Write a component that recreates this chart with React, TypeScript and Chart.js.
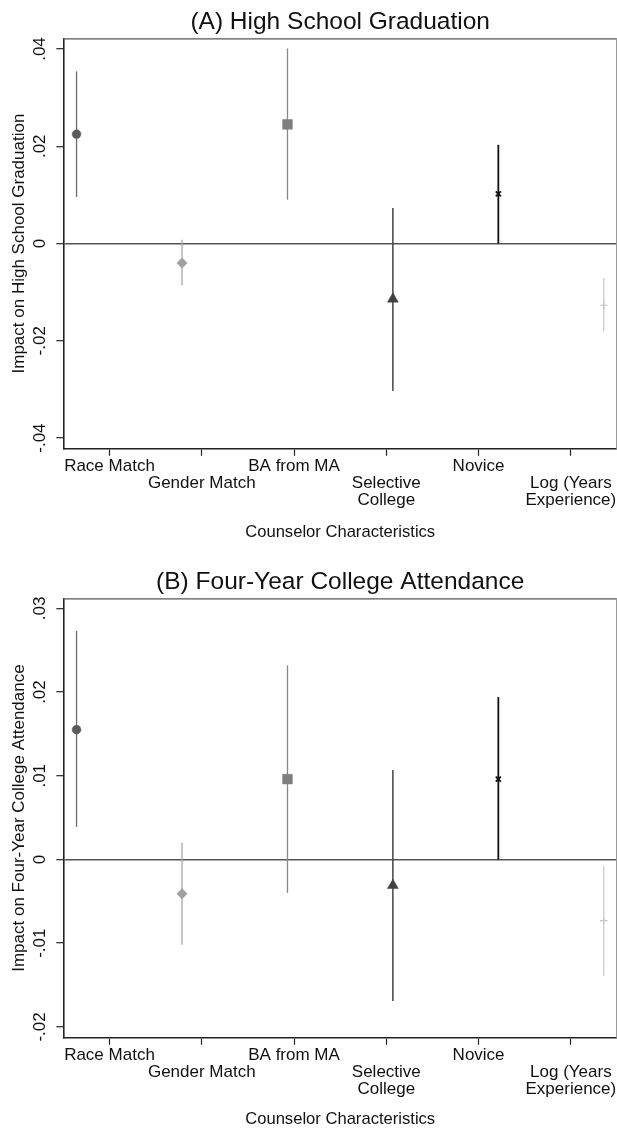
import React, { useEffect, useRef } from "react";
import { Chart, registerables } from "chart.js";

Chart.register(...registerables);

// Counselor characteristics (x axis categories) and where their ticks sit
const categories = [
  "Race Match",
  "Gender Match",
  "BA from MA",
  "Selective\nCollege",
  "Novice",
  "Log (Years\nExperience)",
];
const categoryTicks = [1, 2, 3, 4, 5, 6];
// x coordinate of each coefficient marker
const markerX = [0.643, 1.786, 2.929, 4.071, 5.214, 6.357];

// Panel A: high school graduation
const gradEstimate = [0.0225, -0.004, 0.0245, -0.0114, 0.0102, -0.0127];
const gradLower = [0.0096, -0.0086, 0.009, -0.0303, 0.0, -0.0181];
const gradUpper = [0.0354, 0.0008, 0.0401, 0.0073, 0.0203, -0.0071];
const gradTicks = [-0.04, -0.02, 0, 0.02, 0.04];

// Panel B: four-year college attendance
const collegeEstimate = [0.0155, -0.0041, 0.0096, -0.0031, 0.0096, -0.0073];
const collegeLower = [0.0039, -0.0102, -0.004, -0.0169, 0.0, -0.0139];
const collegeUpper = [0.0273, 0.002, 0.0232, 0.0107, 0.0194, -0.0008];
const collegeTicks = [-0.02, -0.01, 0, 0.01, 0.02, 0.03];

const FONT = "'Liberation Sans', Arial, Helvetica, sans-serif";
const TEXT = "#111111";
const AXIS = "#222222";

type MarkerStyle = {
  pointStyle: string;
  radius: number;
  fill: string;
  line: string;
  lineWidth: number;
  strokeWidth: number;
};

const markerStyles: MarkerStyle[] = [
  { pointStyle: "circle", radius: 4.4, fill: "#5a5a5a", line: "#6a6a6a", lineWidth: 1.3, strokeWidth: 0.5 },
  { pointStyle: "rectRot", radius: 5.2, fill: "#a0a0a0", line: "#a8a8a8", lineWidth: 1.3, strokeWidth: 0.5 },
  { pointStyle: "rect", radius: 6.9, fill: "#7f7f7f", line: "#888888", lineWidth: 1.3, strokeWidth: 0.5 },
  { pointStyle: "triangle", radius: 6.3, fill: "#404040", line: "#444444", lineWidth: 1.5, strokeWidth: 0.5 },
  { pointStyle: "crossRot", radius: 3.6, fill: "#111111", line: "#111111", lineWidth: 1.8, strokeWidth: 1.8 },
  { pointStyle: "cross", radius: 3.8, fill: "#c4c4c4", line: "#c4c4c4", lineWidth: 1.1, strokeWidth: 1.1 },
];

function formatTick(v: number): string {
  if (Math.abs(v) < 1e-12) return "0";
  const s = String(Math.abs(v)).replace(/^0/, "");
  return (v < 0 ? "-" : "") + s;
}

// Top and right edges of the plot region
const framePlugin = {
  id: "plotFrame",
  afterDraw(chart: any) {
    const { ctx, chartArea } = chart;
    ctx.save();
    ctx.lineWidth = 1.3;
    ctx.strokeStyle = "#555555";
    ctx.beginPath();
    ctx.moveTo(chartArea.left, chartArea.top + 0.5);
    ctx.lineTo(chartArea.right, chartArea.top + 0.5);
    ctx.stroke();
    ctx.strokeStyle = "#9a9a9a";
    ctx.lineWidth = 1;
    ctx.beginPath();
    ctx.moveTo(chartArea.right - 0.5, chartArea.top);
    ctx.lineTo(chartArea.right - 0.5, chartArea.bottom);
    ctx.stroke();
    ctx.restore();
  },
};

type PanelProps = {
  title: string;
  yTitle: string;
  estimate: number[];
  lower: number[];
  upper: number[];
  yTicks: number[];
  yMin: number;
  yMax: number;
  height: number;
  xTitlePad: { top: number; bottom: number };
};

function CoefPanel(p: PanelProps) {
  const ref = useRef<HTMLCanvasElement | null>(null);

  useEffect(() => {
    if (!ref.current) return;
    const datasets = categories.map((name, i) => {
      const st = markerStyles[i];
      return {
        label: name.replace("\n", " "),
        data: [
          { x: markerX[i], y: p.lower[i] },
          { x: markerX[i], y: p.estimate[i] },
          { x: markerX[i], y: p.upper[i] },
        ],
        showLine: true,
        borderColor: st.line,
        borderWidth: st.lineWidth,
        pointStyle: st.pointStyle,
        pointRadius: [0, st.radius, 0],
        pointHoverRadius: [0, st.radius, 0],
        pointBackgroundColor: st.fill,
        pointBorderColor: st.fill,
        pointBorderWidth: [0, st.strokeWidth, 0],
        clip: false,
      };
    });

    const chart = new Chart(ref.current, {
      type: "scatter",
      data: { datasets: datasets as any },
      plugins: [framePlugin],
      options: {
        animation: false,
        responsive: false,
        devicePixelRatio: 1,
        layout: { padding: 0 },
        plugins: {
          legend: { display: false },
          tooltip: { enabled: false },
          title: {
            display: true,
            text: p.title,
            fullSize: false,
            color: TEXT,
            font: { family: FONT, size: 24.5, weight: "normal" as any },
            padding: { top: 8, bottom: 0.9 },
          },
        },
        scales: {
          x: {
            type: "linear",
            min: 0.5,
            max: 6.5,
            afterBuildTicks: (s: any) => {
              s.ticks = categoryTicks.map((v) => ({ value: v }));
            },
            afterFit: (s: any) => {
              s.paddingLeft = 0;
              s.paddingRight = 0;
            },
            grid: {
              display: true,
              drawOnChartArea: false,
              drawTicks: true,
              tickLength: 7,
              tickColor: AXIS,
              tickWidth: 1.2,
            },
            border: { display: true, color: AXIS, width: 1.6 },
            ticks: {
              autoSkip: false,
              minRotation: 0,
              maxRotation: 0,
              padding: 2.5,
              color: TEXT,
              font: { family: FONT, size: 17, lineHeight: 1.0 },
              callback: (v: any) => {
                const i = categoryTicks.indexOf(Number(v));
                if (i < 0) return "";
                const lines = categories[i].split("\n");
                return i % 2 === 1 ? ["", ...lines] : lines;
              },
            },
            title: {
              display: true,
              text: "Counselor Characteristics",
              color: TEXT,
              font: { family: FONT, size: 16.6 },
              padding: p.xTitlePad,
            },
          },
          y: {
            type: "linear",
            min: p.yMin,
            max: p.yMax,
            afterBuildTicks: (s: any) => {
              s.ticks = p.yTicks.map((v) => ({ value: v }));
            },
            grid: {
              display: true,
              drawTicks: true,
              tickLength: 7,
              tickColor: AXIS,
              tickWidth: 1.2,
              lineWidth: 1.4,
              color: (ctx: any) =>
                ctx.tick && Math.abs(ctx.tick.value) < 1e-12 ? "#555555" : "rgba(0,0,0,0)",
            },
            border: { display: true, color: AXIS, width: 1.6 },
            ticks: {
              minRotation: 90,
              maxRotation: 90,
              crossAlign: "center",
              padding: 1.35,
              color: TEXT,
              font: { family: FONT, size: 17 },
              callback: (v: any) => formatTick(Number(v)),
            },
            title: {
              display: true,
              text: p.yTitle,
              color: TEXT,
              font: { family: FONT, size: 17 },
              padding: { top: 9.3, bottom: 3.55 },
            },
          },
        },
      } as any,
    });
    return () => chart.destroy();
  }, []);

  return (
    <canvas
      ref={ref}
      width={617}
      height={p.height}
      style={{ display: "block", width: 617, height: p.height }}
    />
  );
}

export default function App() {
  useEffect(() => {
    document.body.style.margin = "0";
  }, []);
  return (
    <div style={{ width: 617, background: "#ffffff" }}>
      <CoefPanel
        title="(A) High School Graduation"
        yTitle="Impact on High School Graduation"
        estimate={gradEstimate}
        lower={gradLower}
        upper={gradUpper}
        yTicks={gradTicks}
        yMin={-0.0422}
        yMax={0.0422}
        height={560}
        xTitlePad={{ top: 10.8, bottom: 17.5 }}
      />
      <CoefPanel
        title="(B) Four-Year College Attendance"
        yTitle="Impact on Four-Year College Attendance"
        estimate={collegeEstimate}
        lower={collegeLower}
        upper={collegeUpper}
        yTicks={collegeTicks}
        yMin={-0.0213}
        yMax={0.0312}
        height={571}
        xTitlePad={{ top: 8.8, bottom: 1.5 }}
      />
    </div>
  );
}
